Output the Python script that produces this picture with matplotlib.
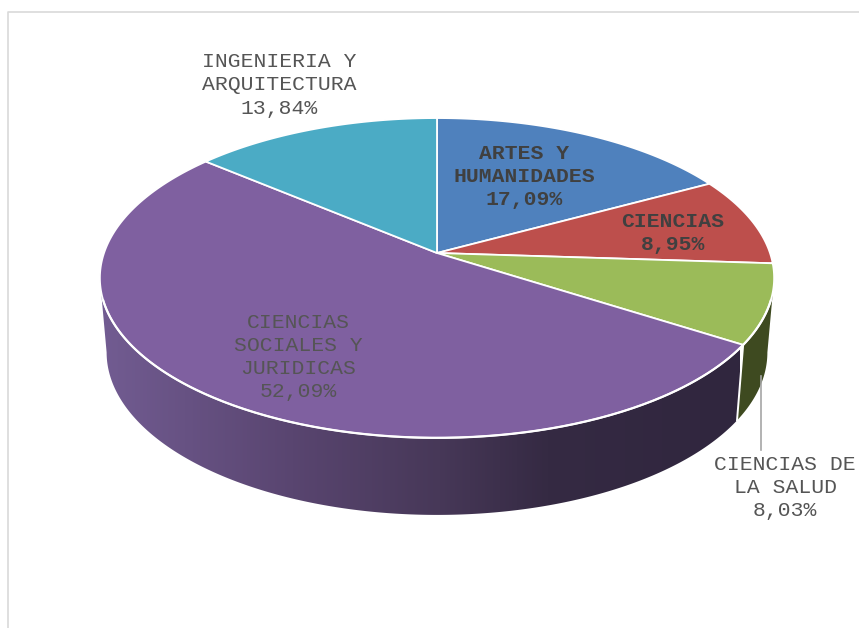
import numpy as np
import matplotlib
matplotlib.use("Agg")
import matplotlib.pyplot as plt
from matplotlib.colors import LinearSegmentedColormap
from matplotlib.patches import Polygon

categories = ["ARTES Y\nHUMANIDADES", "CIENCIAS", "CIENCIAS DE\nLA SALUD",
              "CIENCIAS\nSOCIALES Y\nJURIDICAS", "INGENIERIA Y\nARQUITECTURA"]
values = [17.09, 8.95, 8.03, 52.09, 13.84]
value_labels = ["17,09%", "8,95%", "8,03%", "52,09%", "13,84%"]
colors = ["#4f81bd", "#bd4f4c", "#9bbb59", "#7f60a0", "#4babc5"]
side_colors = {2: "#3e4a20"}
label_xy = [(524, 176.5), (673, 233), (785, 487.5), (298, 357), (279, 85)]
bold = [True, True, False, False, False]

CX, CY, A, B, K = 437.0, 253.0, 333.0, 156.0, 0.156
SX, CY2, B2 = 0.98, 327.0, 158.6
# angles (from the top, clockwise) where the outline is widest on each side
RIGHT_EXT, LEFT_EXT = np.arccos(-K), 2 * np.pi - np.arccos(-K)


def top(theta):
    u, v = np.sin(theta), np.cos(theta)
    d = 1 + K * v
    return CX + A * u / d, CY - B * v / d


def bottom(theta):
    u, v = np.sin(theta), np.cos(theta)
    d = 1 + K * v
    return CX + SX * A * u / d, CY2 - B2 * v / d


fig = plt.figure(figsize=(8.59, 6.28), dpi=100)
ax = fig.add_axes([0, 0, 1, 1])
ax.axis("off")

# chart frame
ax.plot([8, 8, 859], [628, 12, 12], color="#d9d9d9", lw=1.2, zorder=1)

edges = np.cumsum([0] + values) / 100 * 2 * np.pi

# side wall: purple gradient
t = np.linspace(edges[3], LEFT_EXT, 300)
xt, yt = top(t)
xb, yb = bottom(t)
wall = Polygon(np.r_[np.c_[xt, yt], np.c_[xb, yb][::-1]], closed=True,
               transform=ax.transData, fc="none", ec="none")
ax.add_patch(wall)
cmap = LinearSegmentedColormap.from_list(
    "wall", [(0, "#725c92"), (0.3, "#594570"), (0.53, "#473858"),
             (0.70, "#352a43"), (1, "#30263e")])
im = ax.imshow(np.linspace(0, 1, 512)[None, :], cmap=cmap, aspect="auto",
               extent=(100, 740, 628, 0), zorder=2)
im.set_clip_path(wall)

# side wall: green slice
t = np.linspace(RIGHT_EXT, edges[3], 80)
xt, yt = top(t)
xb, yb = bottom(t)
ax.fill(np.r_[xt, xb[::-1]], np.r_[yt, yb[::-1]], fc=side_colors[2], ec="none", zorder=2)
# white seam between the two walls
xs0, ys0 = top(edges[3])
xs1, ys1 = bottom(edges[3])
ax.plot([xs0, xs1], [ys0, ys1], color="white", lw=1.4, zorder=3)

# top face
for i, c in enumerate(colors):
    t = np.linspace(edges[i], edges[i + 1], 200)
    x, y = top(t)
    ax.fill(np.r_[CX, x], np.r_[CY, y], fc=c, ec="white", lw=1.3, joinstyle="round", zorder=4)

# white rim over the front edge
t = np.radians(np.linspace(107, 253, 300))
x, y = top(t)
ax.plot(x, y, color="white", lw=1.6, zorder=5)

# leader line
ax.plot([761, 761], [376, 450], color="#a6a6a6", lw=1.2, zorder=6)

for cat, val, (lx, ly), b in zip(categories, value_labels, label_xy, bold):
    ax.text(lx, ly, cat + "\n" + val, ha="center", va="center", ma="center",
            family="Liberation Mono", fontsize=15.4, linespacing=1.28,
            fontweight="bold" if b else "normal",
            color="#404040" if b else "#555555", zorder=7)

ax.set_xlim(0, 859)
ax.set_ylim(628, 0)
fig.savefig("out.png", dpi=100)
